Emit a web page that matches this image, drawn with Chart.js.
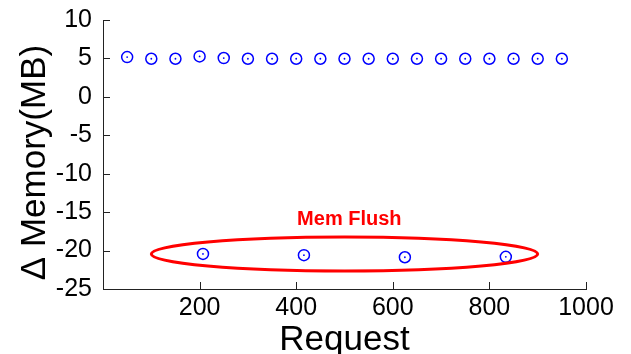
<!DOCTYPE html>
<html>
<head>
<meta charset="utf-8">
<script src="https://cdn.jsdelivr.net/npm/chart.js@4"></script>
<style>
html,body{margin:0;padding:0;background:#fff;}
#wrap{width:631px;height:354px;}
</style>
</head>
<body>
<div id="wrap"><canvas id="c" width="631" height="354"></canvas></div>
<script>
// ---- data ----
const normalRequests = [50,100,150,200,250,300,350,400,450,500,550,600,650,700,750,800,850,900,950];
const normalDelta = [5.17,4.96,4.96,5.26,5.05,4.96,4.96,4.96,4.96,4.96,4.96,4.96,4.96,4.96,4.96,4.96,4.96,4.96,4.96];
const flushRequests = [207,416,625,834];
const flushDelta = [-20.43,-20.6,-20.87,-20.82];
const xTicks = [0,200,400,600,800,1000];
const yTicks = [10,5,0,-5,-10,-15,-20,-25];
const xTitle = 'Request';
const yTitle = '\u0394 Memory(MB)';
const annotationText = 'Mem Flush';
// ellipse around the flush points (data units)
const ellipseCenter = [500,-20.45];
const ellipseRadii = [400,2.2];
const annotationPos = [510,-16.7];

const allX = normalRequests.concat(flushRequests);
const allY = normalDelta.concat(flushDelta);
const pts = allX.map((x,i)=>({x:x,y:allY[i]}));

const FONT = "'Liberation Sans', Arial, Helvetica, sans-serif";

const decor = {
  id:'decor',
  afterDraw(chart){
    const ctx = chart.ctx;
    const xs = chart.scales.x, ys = chart.scales.y;
    const area = chart.chartArea;
    ctx.save();
    // inward tick marks
    ctx.strokeStyle = '#222';
    ctx.lineWidth = 1;
    ctx.beginPath();
    xTicks.forEach(v=>{
      const px = Math.round(xs.getPixelForValue(v))+0.5;
      ctx.moveTo(px, area.bottom);
      ctx.lineTo(px, area.bottom-7);
    });
    yTicks.forEach(v=>{
      const py = Math.round(ys.getPixelForValue(v))+0.5;
      ctx.moveTo(area.left, py);
      ctx.lineTo(area.left+7, py);
    });
    ctx.stroke();
    // ellipse
    const cx = xs.getPixelForValue(ellipseCenter[0]);
    const cy = ys.getPixelForValue(ellipseCenter[1]);
    const rx = Math.abs(xs.getPixelForValue(ellipseCenter[0]+ellipseRadii[0]) - cx);
    const ry = Math.abs(ys.getPixelForValue(ellipseCenter[1]+ellipseRadii[1]) - cy);
    ctx.strokeStyle = '#ff0000';
    ctx.lineWidth = 3;
    ctx.beginPath();
    ctx.ellipse(cx, cy, rx, ry, 0, 0, Math.PI*2);
    ctx.stroke();
    // annotation text
    ctx.fillStyle = '#ff0000';
    ctx.font = "bold 20px " + FONT;
    ctx.textAlign = 'center';
    ctx.textBaseline = 'alphabetic';
    ctx.fillText(annotationText, xs.getPixelForValue(annotationPos[0]), ys.getPixelForValue(annotationPos[1]));
    // y title
    ctx.fillStyle = '#000';
    ctx.font = "35px " + FONT;
    ctx.translate(45, 162.5);
    ctx.rotate(-Math.PI/2);
    ctx.textAlign = 'center';
    ctx.fillText(yTitle, 0, 0);
    ctx.restore();
  }
};

new Chart(document.getElementById('c'), {
  type:'scatter',
  data:{
    datasets:[
      {data:pts, pointStyle:'circle', pointRadius:5.5, pointHoverRadius:5.5, borderColor:'#0000ff', backgroundColor:'rgba(0,0,0,0)', pointBorderWidth:1.5},
      {data:pts, pointStyle:'circle', pointRadius:0.9, pointHoverRadius:0.9, borderColor:'#0000ff', backgroundColor:'#0000ff', pointBorderWidth:0}
    ]
  },
  options:{
    responsive:false,
    animation:false,
    events:[],
    layout:{padding:{left:0,right:45,top:20,bottom:0}},
    plugins:{legend:{display:false},tooltip:{enabled:false}},
    scales:{
      x:{
        type:'linear', min:0, max:1000,
        afterBuildTicks(s){ s.ticks = xTicks.map(v=>({value:v})); },
        afterFit(s){ s.height = 65; s.paddingLeft = 0; s.paddingRight = 0; },
        grid:{display:true, drawOnChartArea:false, drawTicks:false},
        border:{display:true, color:'#222', width:1},
        ticks:{color:'#000', font:{family:FONT, size:25}, padding:4, maxRotation:0, autoSkip:false,
          callback:(v)=> v===0 ? '' : String(v)},
        title:{display:true, text:xTitle, color:'#000', font:{family:FONT, size:35}, padding:{top:0,bottom:-7}}
      },
      y:{
        type:'linear', min:-25, max:10,
        afterBuildTicks(s){ s.ticks = yTicks.map(v=>({value:v})); },
        afterFit(s){ s.width = 103; s.paddingTop = 0; s.paddingBottom = 0; },
        grid:{display:true, drawOnChartArea:false, drawTicks:false},
        border:{display:true, color:'#222', width:1},
        ticks:{color:'#000', font:{family:FONT, size:25}, padding:11, autoSkip:false,
          callback:(v)=> String(v)}
      }
    }
  },
  plugins:[decor]
});
</script>
</body>
</html>
